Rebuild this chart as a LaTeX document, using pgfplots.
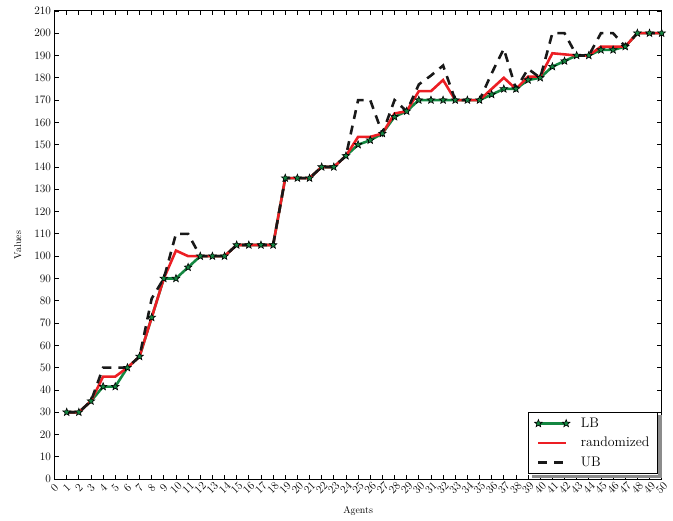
\documentclass[border=0pt]{standalone}
\usepackage{fontspec}
\usepackage{pgfplots}
\usepackage{pgfplotstable}
\pgfplotsset{compat=1.18}

\definecolor{lbgreen}{RGB}{20,135,65}
\definecolor{rndred}{RGB}{236,30,36}

% filled five-pointed star marker
\pgfdeclareplotmark{fstar}{%
  \pgfpathmoveto{\pgfpointpolar{90}{\pgfplotmarksize}}%
  \pgfpathlineto{\pgfpointpolar{126}{0.42\pgfplotmarksize}}%
  \pgfpathlineto{\pgfpointpolar{162}{\pgfplotmarksize}}%
  \pgfpathlineto{\pgfpointpolar{198}{0.42\pgfplotmarksize}}%
  \pgfpathlineto{\pgfpointpolar{234}{\pgfplotmarksize}}%
  \pgfpathlineto{\pgfpointpolar{270}{0.42\pgfplotmarksize}}%
  \pgfpathlineto{\pgfpointpolar{306}{\pgfplotmarksize}}%
  \pgfpathlineto{\pgfpointpolar{342}{0.42\pgfplotmarksize}}%
  \pgfpathlineto{\pgfpointpolar{18}{\pgfplotmarksize}}%
  \pgfpathlineto{\pgfpointpolar{54}{0.42\pgfplotmarksize}}%
  \pgfpathclose
  \pgfusepathqfillstroke
}

% lower bound, randomized solution and upper bound per number of agents
\pgfplotstableread{
x   lb     rnd    ub
1   30     30     30
2   30     30     30
3   35     35     35
4   41.5   46     50
5   41.5   46     50
6   50     50     50
7   55     55     55
8   72.5   72.5   81
9   90     90     90
10  90     102.5  110
11  95     100    110
12  100    100    100
13  100    100    100
14  100    100    100
15  105    105    105
16  105    105    105
17  105    105    105
18  105    105    105
19  135    135    135
20  135    135    135
21  135    135    135
22  140    140    140
23  140    140    140
24  145    145    145
25  150    153.5  170
26  152    153.5  170
27  155    155    155
28  162.5  164    170
29  165    165    165
30  170    174    177
31  170    174    181
32  170    179    185.5
33  170    170    170
34  170    170    170
35  170    170    170
36  172.5  175    182
37  175    180    193
38  175    175    175
39  179    180.5  184
40  180    180.5  180
41  185    191    200
42  187.5  190.5  200
43  190    190    190
44  190    190    190
45  192.5  194    200
46  192.5  194    200
47  194    194    194
48  200    200    200
49  200    200    200
50  200    200    200
}\agents

\begin{document}
\begin{tikzpicture}
\path (-55bp,-42bp) rectangle (618bp,483bp);
\begin{axis}[
  scale only axis, width=612bp, height=472bp,
  xmin=0, xmax=50, ymin=0, ymax=210,
  xtick={0,1,...,50}, ytick={0,10,...,210},
  tick align=inside, xtick pos=both, ytick pos=both,
  major tick length=4.5bp,
  axis line style={line width=0.9bp},
  every tick/.style={black, line width=0.8bp},
  /pgf/number format/assume math mode=true,
  tick label style={font=\fontsize{11.5}{13}\selectfont},
  xticklabel style={yshift=-9bp, rotate=45, anchor=center},
  xlabel={Agents}, ylabel={Values},
  label style={font=\fontsize{10}{12}\selectfont},
  xlabel style={at={(axis description cs:0.5,-0.068)}, anchor=center},
  ylabel style={at={(axis description cs:-0.0605,0.5)}, anchor=center},
  legend cell align=left,
  legend style={name=leg, at={(1,0)}, anchor=south east, xshift=-4bp, yshift=5bp,
    draw=black, line width=0.8bp, fill=white,
    font=\fontsize{14}{16}\selectfont, row sep=4.5bp, inner xsep=6bp, inner ysep=4bp,
    /tikz/every odd column/.append style={column sep=9bp}},
  legend image code/.code={\draw[#1, mark repeat=1] plot coordinates {(0bp,0bp) (28bp,0bp)};},
]
\addplot[lbgreen, line width=2.6bp, mark=fstar, mark size=4bp,
  mark options={fill=lbgreen, draw=black, line width=0.6bp, solid}]
  table[x=x, y=lb] {\agents};
\addlegendentry{LB}
\addplot[rndred, line width=2.6bp, no marks] table[x=x, y=rnd] {\agents};
\addlegendentry{randomized}
\addplot[black!90, line width=2.6bp, no marks, dash pattern=on 9bp off 7bp]
  table[x=x, y=ub] {\agents};
\addlegendentry{UB}
\end{axis}
% grey shadow along the right and lower edges of the legend box
\fill[black!45] ([xshift=0.4bp,yshift=-3.5bp]leg.north east) rectangle ([xshift=3.9bp,yshift=-3.9bp]leg.south east);
\fill[black!45] ([xshift=3.5bp,yshift=-0.4bp]leg.south west) rectangle ([xshift=3.9bp,yshift=-3.9bp]leg.south east);
\end{tikzpicture}
\end{document}
